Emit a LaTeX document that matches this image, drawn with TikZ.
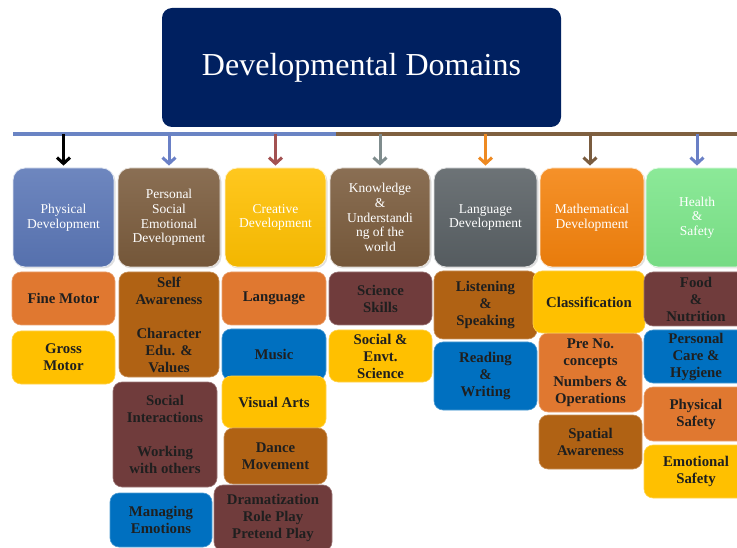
\documentclass[tikz,border=0pt]{standalone}
\usepackage{fontspec}
\setmainfont{Liberation Serif}
\usetikzlibrary{arrows.meta,shadows}
\definecolor{navy}{HTML}{002060}
\definecolor{barblue}{HTML}{6A84C4}
\definecolor{barbrown}{HTML}{7F6040}
\definecolor{dblue}{HTML}{5A76B6}
\definecolor{dbrown}{HTML}{7A5B3C}
\definecolor{dgold}{HTML}{FFC000}
\definecolor{dgray}{HTML}{596064}
\definecolor{dorange}{HTML}{F4820C}
\definecolor{dgreen}{HTML}{7CE68A}
\definecolor{sorange}{HTML}{E07830}
\definecolor{sgold}{HTML}{FFC000}
\definecolor{sbrown}{HTML}{B06214}
\definecolor{smaroon}{HTML}{703C3C}
\definecolor{sblue}{HTML}{0070C0}
\definecolor{agray}{HTML}{7F8C8D}
\definecolor{ared}{HTML}{A35252}
\definecolor{aorange}{HTML}{EE8A22}
\definecolor{abrown}{HTML}{7A5C3F}
\definecolor{ablue}{HTML}{6A80C6}
\tikzset{
  titlebox/.style={fill=navy, rounded corners=10pt, text=white,
    font=\fontsize{32}{38}\selectfont, minimum width=399pt, minimum height=119pt, inner sep=0pt},
  dom/.style={rounded corners=12pt, top color=#1!88!white, bottom color=#1!95!black,
    draw=white!80!#1, line width=0.8pt, text=white,
    font=\fontsize{13.5}{14.7}\selectfont, align=center, inner sep=0pt, minimum height=99pt,
    drop shadow={opacity=0.25, shadow xshift=1.5pt, shadow yshift=-1.5pt}},
  sub/.style={rounded corners=9pt, fill=#1, draw=#1!70!white, line width=0.6pt,
    text=black!88, font=\bfseries\fontsize{14.8}{17}\selectfont, align=center, inner sep=0pt},
  arr/.style={draw=#1, line width=3pt, shorten >=2pt,
    -{Straight Barb[length=6pt,width=13pt,line width=3pt]}},
  barline/.style={draw=#1, line width=4pt}
}
\begin{document}
\begin{tikzpicture}[x=1pt,y=-1pt]
\useasboundingbox (0,0) rectangle (737,548);
\clip (0,0) rectangle (737,548);

% title
\node[titlebox] (title) at (361.5,67.5) {Developmental Domains};

% bar
\coordinate (b0) at (13,134);
\coordinate (bm) at (336,134);
\coordinate (b1) at (737,134);
\draw[barline=barblue] (b0) -- (bm);
\draw[barline=barbrown] (bm) -- (b1);

% domains
\node[dom=dblue,  minimum width=101pt] (d1) at (63.5,217.5) {Physical\\Development};
\node[dom=dbrown, minimum width=102pt] (d2) at (169,217.5) {Personal\\Social\\Emotional\\Development};
\node[dom=dgold,  minimum width=101pt] (d3) at (275.5,217.5) {Creative\\Development};
\node[dom=dbrown, minimum width=100pt] (d4) at (380,217.5) {Knowledge\\\&\\Understandi\\ng of the\\world};
\node[dom=dgray,  minimum width=103pt] (d5) at (485.5,217.5) {Language\\Development};
\node[dom=dorange,minimum width=104pt] (d6) at (592,217.5) {Mathematical\\Development};
\node[dom=dgreen, minimum width=102pt] (d7) at (697,217.5) {Health\\\&\\Safety};

% arrows
\coordinate (t1) at (63.5,134);
\coordinate (t2) at (169,134);
\coordinate (t3) at (275.5,134);
\coordinate (t4) at (380,134);
\coordinate (t5) at (485.5,134);
\coordinate (t6) at (590,134);
\coordinate (t7) at (697,134);
\draw[arr=black]   (t1) -- (d1.north);
\draw[arr=ablue]   (t2) -- (d2.north);
\draw[arr=ared]    (t3) -- (d3.north);
\draw[arr=agray]   (t4) -- (d4.north);
\draw[arr=aorange] (t5) -- (d5.north);
\draw[arr=abrown]  (t6) -- (d6.north -| t6);
\draw[arr=ablue]   (t7) -- (d7.north);

% column 1
\node[sub=sorange, minimum width=103pt, minimum height=53pt] (c1a) at (63.5,298.5) {Fine Motor};
\node[sub=sgold,   minimum width=103pt, minimum height=53pt] (c1b) at (63.5,357.5) {Gross\\Motor};

% column 2
\node[sub=sbrown,  minimum width=100pt, minimum height=105pt] (c2a) at (169,324.5) {Self\\Awareness\\[17pt]Character\\Edu. \&\\Values};
\node[sub=smaroon, minimum width=104pt, minimum height=105pt] (c2b) at (165,434.5) {Social\\Interactions\\[17pt]Working\\with others};
\node[sub=sblue,   minimum width=102pt, minimum height=54pt]  (c2c) at (161,520) {Managing\\Emotions};

% column 3
\node[sub=sorange, minimum width=104pt, minimum height=53pt] (c3a) at (274,298.5) {Language};
\node[sub=sblue,   minimum width=104pt, minimum height=51pt] (c3b) at (274,354.5) {Music};
\node[sub=sgold,   minimum width=104pt, minimum height=52pt] (c3c) at (274,402) {Visual Arts};
\node[sub=sbrown,  minimum width=103pt, minimum height=56pt] (c3d) at (275.5,456) {Dance\\Movement};
\node[sub=smaroon, minimum width=118pt, minimum height=66pt] (c3e) at (273,518) {Dramatization\\Role Play\\Pretend Play};

% column 4
\node[sub=smaroon, minimum width=103pt, minimum height=53pt] (c4a) at (380.5,298.5) {Science\\Skills};
\node[sub=sgold,   minimum width=103pt, minimum height=52pt] (c4b) at (380.5,356) {Social \&\\Envt.\\Science};

% column 5
\node[sub=sbrown,  minimum width=103pt, minimum height=68pt] (c5a) at (485.5,305) {Listening\\\&\\Speaking};
\node[sub=sblue,   minimum width=103pt, minimum height=68pt] (c5b) at (485.5,376) {Reading\\\&\\Writing};

% column 6
\node[sub=sorange, minimum width=103pt, minimum height=79pt] (c6b) at (590.5,372.5) {Pre No.\\concepts\\[4pt]Numbers \&\\Operations};
\node[sub=sgold,   minimum width=112pt, minimum height=62pt] (c6a) at (589,302) {Classification};
\node[sub=sbrown,  minimum width=103pt, minimum height=54pt] (c6c) at (590.5,442) {Spatial\\Awareness};

% column 7
\node[sub=smaroon, minimum width=104pt, minimum height=54pt] (c7a) at (696,299) {Food\\\&\\Nutrition};
\node[sub=sblue,   minimum width=104pt, minimum height=53pt] (c7b) at (696,356.5) {Personal\\Care \&\\Hygiene};
\node[sub=sorange, minimum width=104pt, minimum height=54pt] (c7c) at (696,414) {Physical\\Safety};
\node[sub=sgold,   minimum width=104pt, minimum height=53pt] (c7d) at (696,471.5) {Emotional\\Safety};
\end{tikzpicture}
\end{document}
